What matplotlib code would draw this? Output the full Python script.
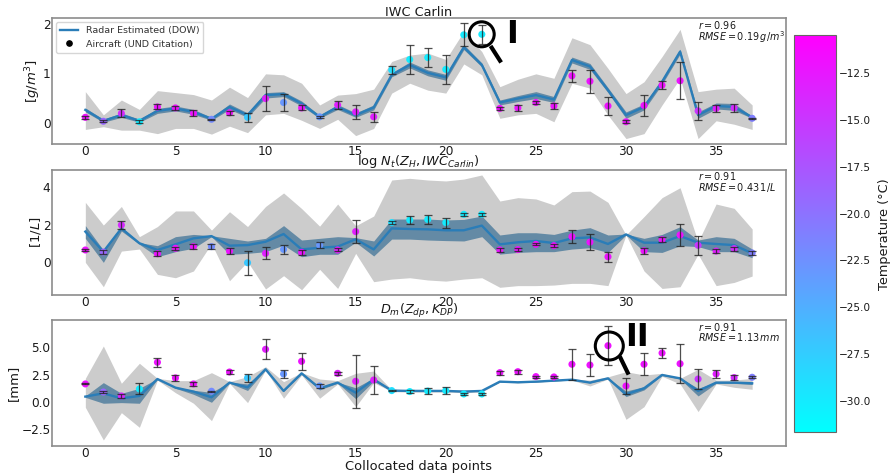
import numpy as np
import matplotlib
matplotlib.use("Agg")
import matplotlib.pyplot as plt
from matplotlib.cm import ScalarMappable
from matplotlib.colors import Normalize
from matplotlib.lines import Line2D
from matplotlib.patches import Circle
from matplotlib.transforms import IdentityTransform

nan = float("nan")
# aircraft temperature at each collocated point
temperature = [-12,-19,-14,-30,-12,-12,-12,-22,-12,-27,-13,-23,-12,-23,-13,-13,-13,-29,-30,-30,-30,-30,-30,
               -12,-12,-12,-12,-12,-12,-12,-12,-12,-12,-12,-15,-13,-14,-21]

iwc_line = [.26,.04,.155,.04,.24,.29,.22,.08,.32,.155,.56,.58,.39,.12,.32,.155,.31,.97,1.17,1.01,.92,1.53,1.17,.41,.49,.56,.47,1.27,1.14,.66,.155,.32,.83,1.44,.155,.34,.32,.11]
iwc_in_hi = [.30,.07,.20,.07,.29,.34,.27,.11,.38,.20,.61,.63,.44,.15,.37,.20,.36,1.01,1.23,1.07,.98,1.58,1.21,.46,.55,.63,.53,1.33,1.20,.71,.22,.38,.88,1.49,.22,.40,.39,.13]
iwc_in_lo = [.22,.01,.11,.01,.19,.24,.17,.05,.27,.11,.50,.53,.34,.09,.27,.11,.26,.93,1.11,.95,.86,1.48,1.13,.36,.43,.49,.41,1.21,1.08,.61,.09,.26,.78,1.39,.09,.28,.25,.09]
iwc_gr_hi = [.63,.16,.46,.27,.65,.61,.57,.46,.72,.51,.99,.97,.80,.36,.56,.59,.68,1.24,1.37,1.41,1.28,1.85,1.44,.73,.88,.99,.90,1.72,1.58,1.10,.59,.83,1.34,1.89,.63,.68,.70,.36]
iwc_gr_lo = [-.135,-.08,-.15,-.15,-.22,-.115,-.115,-.23,-.07,-.20,.16,.19,.05,-.115,.07,-.26,-.115,.60,.80,.66,.60,1.19,.97,.09,.16,.19,.02,.80,.70,.155,-.32,-.22,.36,.90,-.32,.04,-.03,-.135]
iwc_obs = [.11,.03,.19,.02,.32,.30,.19,.07,.20,.11,.49,.41,.30,.12,.36,.22,.12,1.07,1.28,1.32,1.08,1.78,1.79,.29,.30,.41,.34,.95,.84,.34,.02,.35,.76,.85,.24,.29,.30,.09]
iwc_err = [.03,.02,.08,.03,.05,.04,.06,.015,.035,.085,.26,.18,.05,.02,.085,.14,.105,.08,.30,.20,.29,.23,.19,.035,.055,.04,.055,.12,.23,.19,.035,.21,.075,.37,.18,.07,.08,.015]

nt_line = [1.64,.57,1.81,1.02,.66,.96,1.28,1.40,.89,.92,1.10,1.51,.69,.78,.84,1.23,.69,1.81,1.78,1.76,1.71,1.71,1.96,.96,1.07,1.14,1.03,1.28,1.33,.98,1.49,1.05,1.05,1.40,1.05,.98,.92,.48]
nt_in_hi = [1.96,.66,1.90,1.05,.89,1.37,1.49,1.42,1.28,1.14,1.28,1.96,1.19,1.28,1.37,1.32,1.14,2.31,2.31,2.31,2.26,2.29,2.47,1.46,1.58,1.58,1.49,1.72,1.85,1.46,1.51,1.28,1.49,1.90,1.19,1.37,1.28,.71]
nt_in_lo = [1.28,0,1.67,.96,.30,.57,.75,1.37,.43,.48,.57,.92,.30,.43,.43,1.07,.34,1.24,1.24,1.19,1.16,1.14,1.37,.44,.53,.57,.57,.71,.78,.53,1.46,.57,.53,.89,.84,.57,.57,.25]
nt_gr_hi = [3.20,1.99,2.98,1.37,1.91,2.74,2.74,1.72,2.70,1.91,2.98,3.70,2.87,1.93,3.11,1.95,2.47,4.39,4.48,4.39,4.34,4.44,4.66,3.27,3.45,3.38,3.06,3.77,3.80,3.20,1.46,2.44,3.45,3.98,1.10,3.11,2.88,1.78]
nt_gr_lo = [0,-1.30,.60,.71,-.64,-.82,-.46,1.0,-.98,.04,-1.42,-.71,-1.46,-.37,-1.39,.48,-1.03,-.89,-.82,-.94,-1.0,-.89,-.82,-1.33,-1.24,-1.24,-1.21,-1.12,-1.12,-1.24,1.46,-.46,-1.39,-1.30,.43,-1.24,-1.07,-.73]
nt_obs = [.66,.55,1.99,nan,.46,.75,.84,.84,.60,-.02,.48,.69,.53,.91,.66,1.64,nan,2.12,2.26,2.29,2.12,2.56,2.56,.66,.68,.96,.89,1.37,1.08,.30,nan,.62,1.21,1.46,.91,.60,.73,.50]
nt_err = [.05,.1,.2,nan,.12,.08,.12,.13,.17,.63,.32,.25,.15,.16,.08,.6,nan,.08,.2,.23,.27,.08,.08,.1,.1,.05,.08,.35,.43,.27,nan,.17,.14,.6,.5,.12,.1,.1]

dm_line = [.49,.79,.33,.55,2.10,1.31,.95,.43,1.77,1.34,2.99,1.01,2.62,1.25,1.77,.85,2.07,1.04,1.01,1.01,1.01,.95,1.01,1.86,1.80,1.86,1.95,2.04,1.77,2.16,.70,1.25,2.47,2.16,1.01,1.77,1.77,1.71]
dm_in_hi = [.55,1.77,.79,1.25,2.13,1.37,1.07,.88,1.82,1.65,3.05,1.05,2.65,1.40,1.80,1.30,2.20,1.07,1.04,1.04,1.04,.98,1.04,1.89,1.83,1.89,1.98,2.07,1.80,2.19,1.00,1.40,2.50,2.20,1.25,1.80,1.82,1.80]
dm_in_lo = [.42,-.12,-.06,-.12,2.07,1.25,.70,-.03,1.72,1.05,2.93,.97,2.55,1.10,1.72,.30,1.90,1.00,.98,.98,.98,.92,.98,1.83,1.77,1.83,1.92,2.01,1.74,2.13,.49,1.10,2.44,2.10,.55,1.70,1.70,1.60]
dm_gr_hi = [2.16,5.12,1.71,3.54,2.16,1.95,1.95,2.68,1.86,2.32,3.23,1.86,2.68,2.10,1.95,2.62,2.83,1.10,1.12,1.12,1.12,1.10,1.12,1.90,1.85,1.90,2.0,2.1,2.0,2.3,2.77,2.47,2.62,2.16,2.99,2.0,2.0,2.16]
dm_gr_lo = [-.49,-3.48,-.98,-2.32,2.0,.85,-.12,-1.71,1.7,-.06,2.93,.34,2.47,.34,1.65,-.43,1.77,.95,.9,.9,.9,.85,.9,1.8,1.75,1.8,1.9,2.0,1.46,2.1,-1.59,-.43,2.35,1.65,-.88,1.65,1.34,1.16]
dm_obs = [1.65,.91,.55,1.19,3.63,2.2,1.65,.98,2.74,2.2,4.82,2.56,3.72,1.46,2.62,1.89,2.01,1.04,.95,1.0,1.04,.73,.73,2.68,2.77,2.32,2.29,3.45,3.38,5.15,1.46,3.45,4.48,3.5,2.1,2.56,2.23,2.26]
dm_err = [.05,.05,.15,.5,.4,.3,.2,.05,.15,.4,.9,.33,.75,.2,.15,2.4,1.25,.05,.15,.3,.3,.1,.1,.18,.18,.1,.1,1.43,1.0,1.8,.7,1.0,.5,1.77,.9,.4,.2,.07]

panels = [
    dict(line=iwc_line, in_hi=iwc_in_hi, in_lo=iwc_in_lo, gr_hi=iwc_gr_hi, gr_lo=iwc_gr_lo, obs=iwc_obs, err=iwc_err,
         title="IWC Carlin", ylabel=r"[$g/m^3$]", yticks=[0, 1, 2], yfmt="{:.0f}", ylim=(-.43, 2.11), labx=-.0123,
         note="$r = 0.96$\n$RMSE = 0.19\\,g/m^3$"),
    dict(line=nt_line, in_hi=nt_in_hi, in_lo=nt_in_lo, gr_hi=nt_gr_hi, gr_lo=nt_gr_lo, obs=nt_obs, err=nt_err,
         title=r"log $N_t(Z_H, IWC_{Carlin})$", ylabel=r"[$1/L$]", yticks=[0, 2, 4], yfmt="{:.0f}", ylim=(-1.74, 4.94), labx=-.0123,
         note="$r = 0.91$\n$RMSE = 0.43\\,1/L$"),
    dict(line=dm_line, in_hi=dm_in_hi, in_lo=dm_in_lo, gr_hi=dm_gr_hi, gr_lo=dm_gr_lo, obs=dm_obs, err=dm_err,
         title=r"$D_m(Z_{dp}, K_{DP})$", ylabel="[mm]", yticks=[-2.5, 0, 2.5, 5], yfmt="{:.1f}", ylim=(-4.03, 7.5), labx=-.0436,
         note="$r = 0.91$\n$RMSE = 1.13\\,mm$"),
]

W, H = 893, 473
fig = plt.figure(figsize=(W / 100, H / 100), dpi=100)

def box(l, t, r, b):
    return [l / W, 1 - b / H, (r - l) / W, (b - t) / H]

boxes = [(52, 18.5, 785.5, 144), (52, 169.7, 785.5, 295), (52, 320, 785.5, 446)]
norm = Normalize(-31.69, -10.47)
cmap = "cool"
x = np.arange(len(temperature))
SPINE = "#8c8c8c"
TXT = "#1a1a1a"

for p, b in zip(panels, boxes):
    ax = fig.add_axes(box(*b))
    ax.fill_between(x, p["gr_lo"], p["gr_hi"], color="#cccccc", lw=0, zorder=1)
    ax.fill_between(x, p["in_lo"], p["in_hi"], color="#1f5f8b", alpha=.6, lw=0, zorder=2)
    ax.plot(x, p["line"], color="#2a7db8", lw=1.7, zorder=3)
    ax.scatter(x, p["obs"], c=temperature, cmap=cmap, norm=norm, s=26, lw=0, zorder=4)
    ax.errorbar(x, p["obs"], yerr=p["err"], fmt="none", ecolor="#222222", elinewidth=.9, capsize=3,
                capthick=.9, alpha=.8, zorder=5)
    ax.set_xlim(-1.85, 38.85)
    ax.set_ylim(*p["ylim"])
    ax.set_xticks([0, 5, 10, 15, 20, 25, 30, 35])
    ax.set_yticks(p["yticks"])
    ax.set_yticklabels([p["yfmt"].format(v).replace("-", "\u2212") for v in p["yticks"]])
    ax.tick_params(axis="x", length=0, labelsize=8.7, pad=1, colors=TXT)
    ax.tick_params(axis="y", length=0, labelsize=8.7, pad=1, colors=TXT)
    for s in ax.spines.values():
        s.set_color(SPINE)
        s.set_linewidth(1.2)
    ax.set_title(p["title"], fontsize=9.3, pad=1, color=TXT)
    ax.set_ylabel(p["ylabel"], fontsize=9.5, color=TXT)
    ax.yaxis.set_label_coords(p["labx"], .5)
    ax.text(.8807, .995, p["note"], transform=ax.transAxes, ha="left", va="top", fontsize=6.9,
            linespacing=.85, color=TXT)
    p["ax"] = ax

ax0 = panels[0]["ax"]
handle_pt = Line2D([], [], marker="o", ls="none", color="black", ms=3.8)
leg_line = Line2D([], [], color="#2a7db8", lw=1.7)
ax0.legend([leg_line, handle_pt], ["Radar Estimated (DOW)", "Aircraft (UND Citation)"], loc="upper left",
           fontsize=6.8, borderaxespad=.4, labelcolor="#333333", bbox_to_anchor=(0, 1))
panels[2]["ax"].set_xlabel("Collocated data points", fontsize=9.4, labelpad=0, color=TXT)

# colour bar
cax = fig.add_axes(box(794, 35.3, 836.3, 432.3))
cb = fig.colorbar(ScalarMappable(norm=norm, cmap=cmap), cax=cax)
cb.set_ticks([-12.5, -15, -17.5, -20, -22.5, -25, -27.5, -30])
cb.ax.tick_params(labelsize=7.6, length=0, pad=1.5, colors=TXT)
cb.outline.set_edgecolor("#666666")
cb.set_label("Temperature (\u00b0C)", fontsize=9.3, labelpad=5.5, color=TXT)

def fx(v): return v / W
def fy(v): return 1 - v / H

# magnifier call-outs drawn in pixel space
for cx, cy, rad, hx0, hy0, hx1, hy1, label, tx, ty in [
        (481.7, 34.3, 12.5, 491.7, 47.7, 500, 60.7, "I", 512.5, 43),
        (609.3, 346, 14, 620.7, 358.3, 627.7, 372.7, "II", 636.5, 346)]:
    fig.add_artist(Circle((cx, H - cy), rad, fill=False, ec="black", lw=2.2, transform=IdentityTransform(), zorder=10))
    fig.add_artist(Line2D([fx(hx0), fx(hx1)], [fy(hy0), fy(hy1)], color="black", lw=3, transform=fig.transFigure, zorder=10))
    fig.text(fx(tx), fy(ty), label, fontsize=23, fontweight="bold", ha="center", va="baseline", color="black", zorder=10)

fig.savefig("out.png", dpi=100)
